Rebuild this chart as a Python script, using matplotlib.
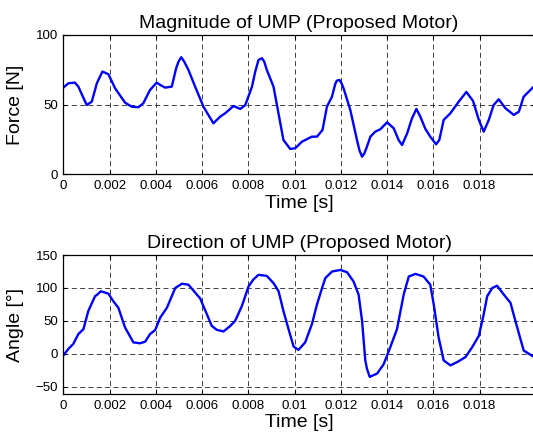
import matplotlib
matplotlib.use('Agg')
import matplotlib.pyplot as plt
import numpy as np

plt.rcParams['font.family'] = ['Liberation Sans', 'DejaVu Sans']

# Magnitude of UMP (time [s], force [N])
t_force = [0, 0.00022, 0.0005, 0.00065, 0.00101, 0.00123, 0.00145, 0.00169, 0.00195,
           0.00224, 0.00267, 0.00296, 0.00325, 0.00346, 0.00375, 0.00404, 0.00419, 0.0044,
           0.00469, 0.00488, 0.00498, 0.0051, 0.00523, 0.00541, 0.0057, 0.00606, 0.00649,
           0.00678, 0.007, 0.00736, 0.00765, 0.00787, 0.00816, 0.0083, 0.00844, 0.00859,
           0.00869, 0.0088, 0.00909, 0.00952, 0.00981, 0.01003, 0.01032, 0.01075, 0.01097,
           0.01121, 0.0114, 0.01162, 0.01176, 0.01183, 0.01194, 0.01202, 0.01212, 0.01241,
           0.0127, 0.01281, 0.01292, 0.01302, 0.01313, 0.01328, 0.01349, 0.01371, 0.014,
           0.01429, 0.0145, 0.01465, 0.01487, 0.01508, 0.01527, 0.01544, 0.01566, 0.01587,
           0.01612, 0.01626, 0.01645, 0.01674, 0.0171, 0.01743, 0.01772, 0.01797, 0.01818,
           0.0184, 0.01861, 0.01883, 0.01912, 0.01948, 0.0197, 0.01991, 0.02032]
force = [62.2, 65.3, 65.8, 62.9, 49.7, 52.1, 65.3, 73.7, 71.8,
         61.7, 51.4, 48.5, 48.1, 51.0, 60.5, 65.8, 64.1, 62.2,
         62.9, 76.1, 80.8, 84.0, 80.8, 74.9, 62.9, 48.5, 36.6,
         41.3, 43.8, 49.0, 46.9, 49.7, 62.9, 73.7, 82.0, 83.3,
         80.8, 74.9, 62.9, 24.6, 18.2, 18.7, 23.4, 27.0, 27.0,
         31.8, 48.5, 55.7, 64.8, 67.2, 67.7, 65.8, 61.7, 46.2,
         24.6, 17.0, 12.6, 15.0, 19.8, 27.0, 30.6, 32.3, 37.3,
         33.0, 24.6, 21.0, 29.4, 40.2, 46.9, 41.3, 32.5, 27.0,
         21.5, 24.6, 39.0, 43.8, 52.1, 59.1, 52.6, 39.0, 30.6,
         39.0, 49.7, 53.8, 47.4, 42.6, 44.9, 55.7, 62.5]

# Direction of UMP (time [s], angle [deg])
t_angle = [0, 0.00022, 0.00043, 0.00065, 0.00087, 0.00108, 0.00137, 0.00147, 0.00162,
           0.00177, 0.00195, 0.00216, 0.00238, 0.00267, 0.00303, 0.00332, 0.00354,
           0.00375, 0.00397, 0.00419, 0.00448, 0.00484, 0.00513, 0.00541, 0.00563,
           0.00592, 0.00621, 0.00642, 0.00664, 0.00693, 0.00722, 0.00743, 0.00772,
           0.00801, 0.00823, 0.00844, 0.0088, 0.00909, 0.00931, 0.00952, 0.00974,
           0.00996, 0.01017, 0.01046, 0.01075, 0.01097, 0.01119, 0.01133, 0.01162,
           0.01198, 0.01227, 0.01255, 0.01277, 0.01292, 0.01306, 0.01313, 0.01325,
           0.01357, 0.01385, 0.01414, 0.01443, 0.01472, 0.01494, 0.01523, 0.01558,
           0.01587, 0.01602, 0.01623, 0.01645, 0.01674, 0.01703, 0.01739, 0.01768,
           0.01797, 0.01818, 0.01833, 0.01855, 0.01876, 0.01905, 0.01934, 0.01955,
           0.01991, 0.02032]
angle = [-2.5, 7.5, 15, 30, 37.5, 65, 87.4, 90, 95,
         93.4, 91.4, 80, 70, 40, 17.4, 16, 18.5,
         30, 36, 55, 70, 100, 106.5, 105, 96,
         84, 60, 42.4, 36.4, 34, 42.4, 50, 72.4,
         102.4, 113.3, 120, 118.4, 107.4, 95, 65, 37.5,
         11, 6, 17.4, 45, 75, 100, 115, 125,
         127.4, 124, 110, 90, 50, -10, -22.5, -35,
         -30, -16, 10, 37.5, 90, 117.4, 121.4, 117.4,
         105, 75, 25, -10, -17.5, -12.6, -5, 10,
         27.4, 60, 87.4, 100, 103.4, 90, 77.4, 50,
         5, -4]

xticks = [0, 0.002, 0.004, 0.006, 0.008, 0.01, 0.012, 0.014, 0.016, 0.018]
xticklabels = ['0', '0.002', '0.004', '0.006', '0.008', '0.01', '0.012', '0.014', '0.016', '0.018']

fig = plt.figure(figsize=(5.33, 4.41), dpi=100)
ax1 = fig.add_axes([0.1188, 0.6048, 0.885, 0.316])
ax2 = fig.add_axes([0.1188, 0.1066, 0.885, 0.315])


def style(ax, yticks, ylim, title, ylabel):
    ax.set_xlim(0, 0.0204)
    ax.set_ylim(*ylim)
    ax.set_xticks(xticks)
    ax.set_xticklabels(xticklabels)
    ax.set_yticks(yticks)
    ax.tick_params(direction='in', top=True, right=True, length=3, width=0.8,
                   labelsize=9.5, pad=4)
    ax.grid(True, color='#222222', linestyle=(0, (6, 4)), linewidth=0.6)
    for s in ax.spines.values():
        s.set_linewidth(0.9)
    ax.set_title(title, fontsize=14, pad=5)
    ax.set_xlabel('Time [s]', fontsize=14, labelpad=2)
    ax.set_ylabel(ylabel, fontsize=14, labelpad=8)


ax1.plot(t_force, force, color='#0000ff', linewidth=1.7)
style(ax1, [0, 50, 100], (0, 100), 'Magnitude of UMP (Proposed Motor)', 'Force [N]')

ax2.plot(t_angle, angle, color='#0000ff', linewidth=1.7)
style(ax2, [-50, 0, 50, 100, 150], (-61, 149), 'Direction of UMP (Proposed Motor)', 'Angle [°]')

fig.savefig('out.png', dpi=100)
